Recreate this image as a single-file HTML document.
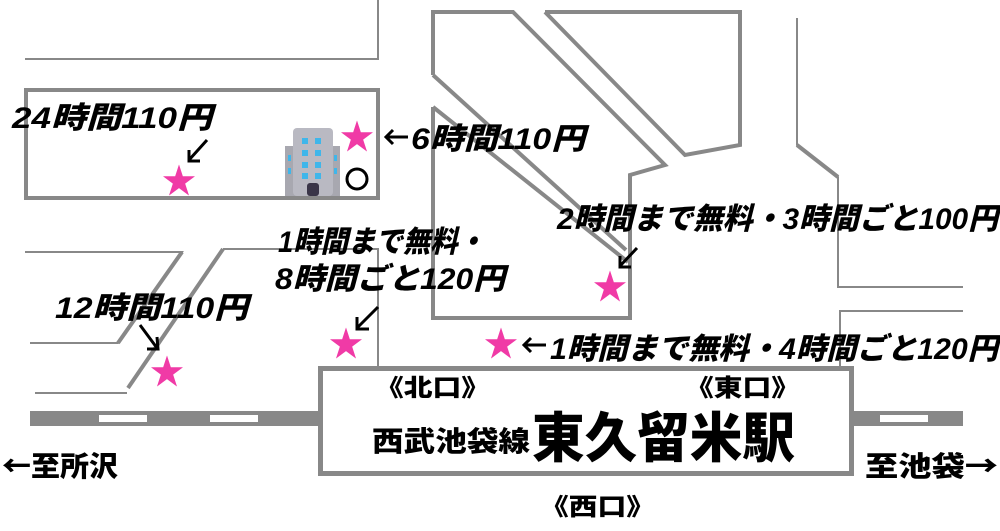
<!DOCTYPE html>
<html><head><meta charset="utf-8"><style>
html,body{margin:0;padding:0;background:#fff;}
svg{display:block;}
text{font-family:"Liberation Sans","Noto Sans CJK JP",sans-serif;font-weight:900;fill:#000;}
.st{fill:#f03aa6;font-size:34px;}
.cj{font-family:"Noto Sans CJK JP",sans-serif;}
</style></head><body>
<svg width="1000" height="531" viewBox="0 0 1000 531" xmlns="http://www.w3.org/2000/svg">
<g fill="none" stroke="#888" stroke-linejoin="miter">
  <polyline points="25,59 378,59 378,0" stroke-width="2"/>
  <rect x="26" y="90" width="352" height="108" stroke-width="4"/>
  <polyline points="25,252 182,252 118,343 30,343" stroke-width="2"/>
  <polyline points="182,252 118,343" stroke-width="4"/>
  <polyline points="35,393 127,393" stroke-width="2"/>
  <polyline points="128,388 223,249" stroke-width="4"/>
  <polyline points="223,249 378,249 378,366" stroke-width="2"/>
  <polyline points="433,75 433,12 513,12 665,165 630,175 630,318 433,318 433,107" stroke-width="4"/>
  <polyline points="433,75 626,250" stroke-width="4"/>
  <polyline points="433,107 628,262" stroke-width="4"/>
  <polyline points="545,12 740,12 740,145 685,155 545,12" stroke-width="4"/>
  <polyline points="797,18 797,145 838,177 838,287 963,287" stroke-width="2"/>
  <polyline points="797,145 838,177" stroke-width="4"/>
  <polyline points="963,311 840,311 840,366" stroke-width="2"/>
</g>
<rect x="30" y="411" width="290" height="15" fill="#888"/>
<rect x="852" y="411" width="111" height="15" fill="#888"/>
<rect x="99" y="415" width="48" height="7" fill="#fff"/>
<rect x="210" y="415" width="48" height="7" fill="#fff"/>
<rect x="880" y="415" width="48" height="7" fill="#fff"/>
<rect x="320.5" y="368.5" width="531" height="105" fill="#fff" stroke="#888" stroke-width="5"/>

<g>
  <rect x="285" y="146" width="12" height="50" fill="#a8a8b0"/>
  <rect x="328" y="146" width="12" height="50" fill="#a8a8b0"/>
  <rect x="293" y="128" width="40" height="68" rx="4" fill="#b9b9c2"/>
  <g fill="#3fb6ea">
    <rect x="302" y="138" width="6" height="6"/><rect x="315" y="138" width="6" height="6"/>
    <rect x="302" y="150" width="6" height="6"/><rect x="315" y="150" width="6" height="6"/>
    <rect x="302" y="162" width="6" height="6"/><rect x="315" y="162" width="6" height="6"/>
    <rect x="302" y="173" width="6" height="6"/><rect x="315" y="173" width="6" height="6"/>
    <rect x="288" y="155" width="3" height="6"/><rect x="288" y="168" width="3" height="6"/>
    <rect x="334" y="155" width="3" height="6"/><rect x="334" y="168" width="3" height="6"/>
  </g>
  <rect x="307" y="183" width="12" height="13" rx="3" fill="#3a3548"/>
</g>
<circle cx="357" cy="179" r="10" fill="none" stroke="#000" stroke-width="3"/>

<text class="st" x="179" y="193" text-anchor="middle">★</text>
<text class="st" x="357" y="149" text-anchor="middle">★</text>
<text class="st" x="610" y="299" text-anchor="middle">★</text>
<text class="st" x="346" y="356" text-anchor="middle">★</text>
<text class="st" x="167" y="384" text-anchor="middle">★</text>
<text class="st" x="501" y="356" text-anchor="middle">★</text>

<g stroke="#000" stroke-width="3" fill="none">
  <path d="M207,140 L189,160 M189,150 L189,161 L200,161"/>
  <path d="M378,307 L357,328 M357,317 L357,329 L369,329"/>
  <path d="M637,248 L620,266 M620,256 L620,267 L631,267"/>
  <path d="M140,325 L157,348 M157,337 L158,349 L147,349"/>
  <path d="M408,137 L386,137 M393,130 L386,137 L393,144"/>
  <path d="M546,345 L524,345 M531,338 L524,345 L531,352"/>
</g>

<g font-size="30" font-style="italic">
<text x="12" y="128" textLength="200" lengthAdjust="spacingAndGlyphs">24時間110円</text>
<text x="411" y="149" textLength="174" lengthAdjust="spacingAndGlyphs">6時間110円</text>
<text x="278" y="252" textLength="207" lengthAdjust="spacingAndGlyphs">1時間まで無料・</text>
<text x="275" y="289" textLength="230" lengthAdjust="spacingAndGlyphs">8時間ごと120円</text>
<text x="55" y="318" textLength="193" lengthAdjust="spacingAndGlyphs">12時間110円</text>
<text x="557" y="229" textLength="441" lengthAdjust="spacingAndGlyphs">2時間まで無料・3時間ごと100円</text>
<text x="550" y="359" textLength="448" lengthAdjust="spacingAndGlyphs">1時間まで無料・4時間ごと120円</text>
</g>

<g font-weight="700">
<text class="cj" x="375" y="396" font-size="24" textLength="115" lengthAdjust="spacingAndGlyphs">《北口》</text>
<text class="cj" x="685" y="396" font-size="24" textLength="115" lengthAdjust="spacingAndGlyphs">《東口》</text>
<text x="372" y="451" font-size="28" textLength="158" lengthAdjust="spacingAndGlyphs">西武池袋線</text>
<text x="532" y="457" font-size="54" textLength="263" lengthAdjust="spacingAndGlyphs">東久留米駅</text>
<text class="cj" x="540" y="515" font-size="24" textLength="115" lengthAdjust="spacingAndGlyphs">《西口》</text>
<text class="cj" x="2" y="476" font-size="28" textLength="116" lengthAdjust="spacingAndGlyphs">←至所沢</text>
<text class="cj" x="865" y="476" font-size="28" textLength="133" lengthAdjust="spacingAndGlyphs">至池袋→</text>
</g>
</svg>
</body></html>
